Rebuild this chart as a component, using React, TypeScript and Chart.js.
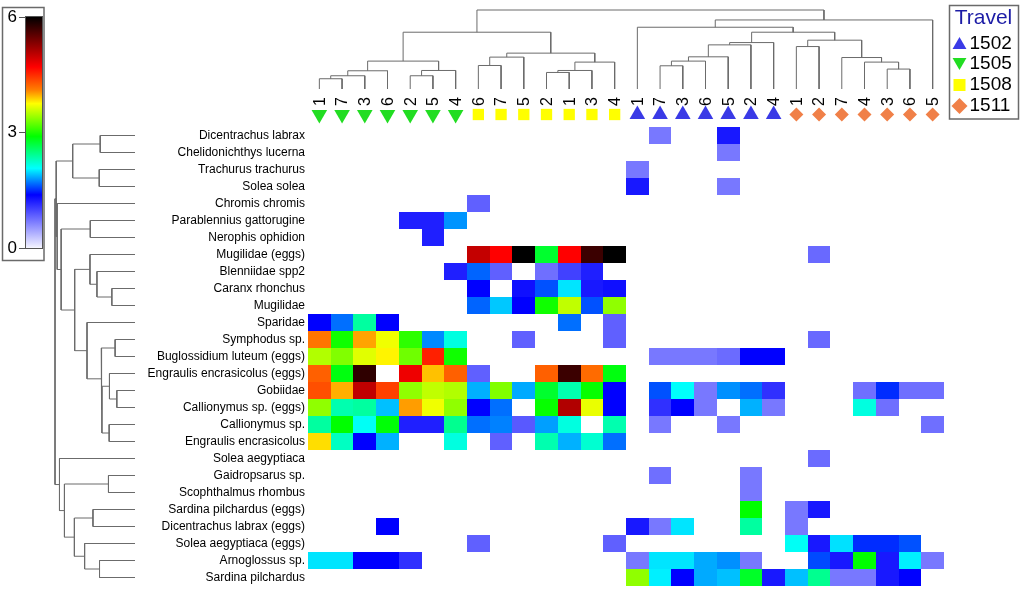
import React, { useEffect, useRef } from 'react';
import { Chart, registerables } from 'chart.js';

Chart.register(...registerables);

const FONT = '"Liberation Sans", Arial, Helvetica, sans-serif';

// ---------- data ----------
const SPECIES = [
  'Dicentrachus labrax',
  'Chelidonichthys lucerna',
  'Trachurus trachurus',
  'Solea solea',
  'Chromis chromis',
  'Parablennius gattorugine',
  'Nerophis ophidion',
  'Mugilidae (eggs)',
  'Blenniidae spp2',
  'Caranx rhonchus',
  'Mugilidae',
  'Sparidae',
  'Symphodus sp.',
  'Buglossidium luteum (eggs)',
  'Engraulis encrasicolus (eggs)',
  'Gobiidae',
  'Callionymus sp. (eggs)',
  'Callionymus sp.',
  'Engraulis encrasicolus',
  'Solea aegyptiaca',
  'Gaidropsarus sp.',
  'Scophthalmus rhombus',
  'Sardina pilchardus (eggs)',
  'Dicentrachus labrax (eggs)',
  'Solea aegyptiaca (eggs)',
  'Arnoglossus sp.',
  'Sardina pilchardus',
];

const COL_LABELS = [
  '1', '7', '3', '6', '2', '5', '4',
  '6', '7', '5', '2', '1', '3', '4',
  '1', '7', '3', '6', '5', '2', '4',
  '1', '2', '7', '4', '3', '6', '5',
];

const COL_TRAVEL = [
  '1505', '1505', '1505', '1505', '1505', '1505', '1505',
  '1508', '1508', '1508', '1508', '1508', '1508', '1508',
  '1502', '1502', '1502', '1502', '1502', '1502', '1502',
  '1511', '1511', '1511', '1511', '1511', '1511', '1511',
];

const TRAVELS = ['1502', '1505', '1508', '1511'];
const TRAVEL_COLORS = ['#3A3AE6', '#22DD22', '#FFFF00', '#F08048'];
const TRAVEL_STYLES = ['triangle', 'triangle', 'rect', 'rectRot'];
const TRAVEL_ROTATION = [0, 180, 0, 0];
const TRAVEL_RADIUS = [9, 9, 8, 7];

// abundance matrix (rows = species, columns = samples in display order)
const HEAT_VALUES: number[][] = [
  [0, 0, 0, 0, 0, 0, 0, 0, 0, 0, 0, 0, 0, 0, 0, 0.73, 0, 0, 1.25, 0, 0, 0, 0, 0, 0, 0, 0, 0],
  [0, 0, 0, 0, 0, 0, 0, 0, 0, 0, 0, 0, 0, 0, 0, 0, 0, 0, 0.73, 0, 0, 0, 0, 0, 0, 0, 0, 0],
  [0, 0, 0, 0, 0, 0, 0, 0, 0, 0, 0, 0, 0, 0, 0.73, 0, 0, 0, 0, 0, 0, 0, 0, 0, 0, 0, 0, 0],
  [0, 0, 0, 0, 0, 0, 0, 0, 0, 0, 0, 0, 0, 0, 1.25, 0, 0, 0, 0.73, 0, 0, 0, 0, 0, 0, 0, 0, 0],
  [0, 0, 0, 0, 0, 0, 0, 0.86, 0, 0, 0, 0, 0, 0, 0, 0, 0, 0, 0, 0, 0, 0, 0, 0, 0, 0, 0, 0],
  [0, 0, 0, 0, 1.21, 1.21, 1.78, 0, 0, 0, 0, 0, 0, 0, 0, 0, 0, 0, 0, 0, 0, 0, 0, 0, 0, 0, 0, 0],
  [0, 0, 0, 0, 0, 1.21, 0, 0, 0, 0, 0, 0, 0, 0, 0, 0, 0, 0, 0, 0, 0, 0, 0, 0, 0, 0, 0, 0],
  [0, 0, 0, 0, 0, 0, 0, 5.0, 4.7, 6.0, 2.75, 4.7, 5.7, 6.0, 0, 0, 0, 0, 0, 0, 0, 0, 0.81, 0, 0, 0, 0, 0],
  [0, 0, 0, 0, 0, 0, 1.21, 1.65, 0.86, 0, 0.78, 1.03, 1.21, 0, 0, 0, 0, 0, 0, 0, 0, 0, 0, 0, 0, 0, 0, 0],
  [0, 0, 0, 0, 0, 0, 0, 1.38, 0, 1.3, 1.6, 2.0, 1.25, 1.3, 0, 0, 0, 0, 0, 0, 0, 0, 0, 0, 0, 0, 0, 0],
  [0, 0, 0, 0, 0, 0, 0, 1.65, 1.92, 1.38, 2.95, 3.54, 1.6, 3.38, 0, 0, 0, 0, 0, 0, 0, 0, 0, 0, 0, 0, 0, 0],
  [1.38, 1.68, 2.38, 1.38, 0, 0, 0, 0, 0, 0, 0, 1.68, 0, 0.86, 0, 0, 0, 0, 0, 0, 0, 0, 0, 0, 0, 0, 0, 0],
  [4.15, 2.95, 4.0, 3.7, 3.05, 1.75, 2.17, 0, 0, 0.86, 0, 0, 0, 0.86, 0, 0, 0, 0, 0, 0, 0, 0, 0.81, 0, 0, 0, 0, 0],
  [3.49, 3.33, 3.65, 3.78, 3.27, 4.55, 2.95, 0, 0, 0, 0, 0, 0, 0, 0, 0.73, 0.73, 0.73, 0.8, 1.38, 1.38, 0, 0, 0, 0, 0, 0, 0],
  [4.25, 2.85, 5.76, 0, 4.78, 3.92, 4.25, 0.86, 0, 0, 4.25, 5.7, 4.2, 2.85, 0, 0, 0, 0, 0, 0, 0, 0, 0, 0, 0, 0, 0, 0],
  [4.33, 3.97, 5.02, 4.4, 3.38, 3.54, 3.49, 1.86, 3.33, 1.84, 2.75, 2.33, 2.92, 1.38, 0, 1.6, 2.08, 0.73, 1.77, 1.68, 1.12, 0, 0, 0, 0.78, 1.5, 0.78, 0.78],
  [3.38, 2.33, 2.38, 1.9, 4.02, 3.7, 3.38, 1.38, 1.68, 0, 2.92, 5.1, 3.68, 1.38, 0, 1.12, 1.38, 0.73, 0, 1.86, 0.73, 0, 0, 0, 2.17, 0.78, 0, 0],
  [2.38, 2.9, 2.1, 2.88, 1.21, 1.21, 2.43, 1.68, 1.73, 0.9, 1.81, 2.17, 0, 2.33, 0, 0.73, 0, 0, 0.73, 0, 0, 0, 0, 0, 0, 0, 0, 0.78],
  [3.84, 2.27, 1.38, 1.86, 0, 0, 2.17, 0, 0.86, 0, 2.33, 1.86, 2.22, 1.68, 0, 0, 0, 0, 0, 0, 0, 0, 0, 0, 0, 0, 0, 0],
  [0, 0, 0, 0, 0, 0, 0, 0, 0, 0, 0, 0, 0, 0, 0, 0, 0, 0, 0, 0, 0, 0, 0.8, 0, 0, 0, 0, 0],
  [0, 0, 0, 0, 0, 0, 0, 0, 0, 0, 0, 0, 0, 0, 0, 0.78, 0, 0, 0, 0.73, 0, 0, 0, 0, 0, 0, 0, 0],
  [0, 0, 0, 0, 0, 0, 0, 0, 0, 0, 0, 0, 0, 0, 0, 0, 0, 0, 0, 0.73, 0, 0, 0, 0, 0, 0, 0, 0],
  [0, 0, 0, 0, 0, 0, 0, 0, 0, 0, 0, 0, 0, 0, 0, 0, 0, 0, 0, 2.9, 0, 0.73, 1.25, 0, 0, 0, 0, 0],
  [0, 0, 0, 1.38, 0, 0, 0, 0, 0, 0, 0, 0, 0, 0, 1.25, 0.73, 2.0, 0, 0, 2.38, 0, 0.73, 0, 0, 0, 0, 0, 0],
  [0, 0, 0, 0, 0, 0, 0, 0.86, 0, 0, 0, 0, 0, 0.86, 0, 0, 0, 0, 0, 0, 0, 2.1, 1.25, 1.99, 1.5, 1.5, 1.6, 0],
  [2.0, 2.0, 1.38, 1.38, 1.12, 0, 0, 0, 0, 0, 0, 0, 0, 0, 0.73, 2.0, 2.0, 1.84, 1.77, 0.73, 0, 0, 1.58, 1.25, 2.9, 1.25, 2.03, 0.73],
  [0, 0, 0, 0, 0, 0, 0, 0, 0, 0, 0, 0, 0, 0, 3.38, 2.03, 1.38, 1.84, 1.9, 2.77, 1.25, 1.9, 2.43, 0.73, 0.73, 1.25, 1.38, 0],
];

// colour scale
const CB_VALUES = [0, 1.38, 2.07, 2.9, 3.75, 4.1, 4.7, 5.35, 6];
const CB_COLORS = ['#FFFFFF', '#0000FF', '#00FFFF', '#00FF00', '#FFFF00', '#FF8000', '#FF0000', '#800000', '#000000'];
const CB_MIN = 0;
const CB_MAX = 6;
const CB_STEP = 3;

// column dendrogram (hclust-style: negative = leaf position, positive = merge number)
const TOP_MERGE_A = [-1, 1, 2, -5, 4, 3, -8, 7, -11, 9, 10, 8, 6, -16, 14, 15, 16, 17, -22, -26, -25, -24, 19, 18, -15, 25, 13];
const TOP_MERGE_B = [-2, -3, -4, -6, -7, 5, -9, -10, -12, -13, -14, 11, 12, -17, -18, -19, -20, -21, -23, -27, 20, 21, 22, 23, 24, -28, 26];
const TOP_MERGE_H = [10.3, 13.3, 18.3, 13.3, 18.6, 28, 23.6, 32, 16.6, 18.6, 27, 36, 57, 23.3, 28, 32.3, 44.3, 46.6, 42.6, 20, 27, 31.6, 49, 57, 62, 69.3, 79.3];

// row dendrogram
const LEFT_MERGE_A = [-1, -3, 1, -6, -10, -9, -8, -13, -16, -15, -18, 10, 8, -12, 7, 4, -5, 3, -21, -23, -26, -25, 20, 19, -20, 18];
const LEFT_MERGE_B = [-2, -4, 2, -7, -11, 5, 6, -14, -17, 9, -19, 11, 12, 13, 14, 15, 16, 17, -22, -24, -27, 21, 22, 23, 24, 25];
const LEFT_MERGE_H = [35, 36, 62.7, 45, 23.3, 38.3, 45.3, 20, 18.3, 25.7, 26, 33.3, 34, 48.3, 60.7, 74.3, 78.3, 79.3, 26.7, 42.3, 35.7, 50.7, 61, 71, 76, 80.5];

// ---------- helpers ----------
const COL_LABEL_ROW = -1.5;

function hexToRgb(h: string) {
  const n = parseInt(h.slice(1), 16);
  return [(n >> 16) & 255, (n >> 8) & 255, n & 255];
}

function colorFor(v: number) {
  const vv = Math.max(CB_MIN, Math.min(CB_MAX, v));
  for (let i = 0; i < CB_VALUES.length - 1; i++) {
    if (vv <= CB_VALUES[i + 1]) {
      const t = (vv - CB_VALUES[i]) / (CB_VALUES[i + 1] - CB_VALUES[i]);
      const a = hexToRgb(CB_COLORS[i]);
      const b = hexToRgb(CB_COLORS[i + 1]);
      const c = a.map((x, k) => Math.round(x + (b[k] - x) * t));
      return `rgb(${c[0]},${c[1]},${c[2]})`;
    }
  }
  return CB_COLORS[CB_COLORS.length - 1];
}

function dendroSegments(A: number[], B: number[], H: number[]) {
  const pos: number[] = [];
  const hh: number[] = [];
  const get = (k: number) => (k < 0 ? { p: -k - 1 + 0.5, h: 0 } : { p: pos[k - 1], h: hh[k - 1] });
  const segs: { a: { p: number; h: number }; b: { p: number; h: number }; h: number }[] = [];
  for (let i = 0; i < A.length; i++) {
    const a = get(A[i]);
    const b = get(B[i]);
    pos[i] = (a.p + b.p) / 2;
    hh[i] = H[i];
    segs.push({ a, b, h: H[i] });
  }
  return segs;
}

function drawMarker(ctx: CanvasRenderingContext2D, style: string, rot: number, cx: number, cy: number, r: number) {
  ctx.beginPath();
  if (style === 'triangle') {
    const s = rot === 180 ? -1 : 1;
    ctx.moveTo(cx, cy - s * r);
    ctx.lineTo(cx + r * 0.866, cy + s * r / 2);
    ctx.lineTo(cx - r * 0.866, cy + s * r / 2);
  } else if (style === 'rect') {
    const h = r * Math.SQRT1_2;
    ctx.rect(cx - h, cy - h, 2 * h, 2 * h);
  } else {
    ctx.moveTo(cx - r, cy);
    ctx.lineTo(cx, cy - r);
    ctx.lineTo(cx + r, cy);
    ctx.lineTo(cx, cy + r);
  }
  ctx.closePath();
  ctx.fill();
}

// ---------- plugins ----------
const heatPlugin = {
  id: 'heatCells',
  beforeDatasetsDraw(chart: any) {
    const { ctx, scales } = chart;
    const x = scales.x;
    const y = scales.y;
    ctx.save();
    HEAT_VALUES.forEach((row, r) => {
      row.forEach((v, c) => {
        if (v <= 0) return;
        const x0 = Math.round(x.getPixelForValue(c));
        const x1 = Math.round(x.getPixelForValue(c + 1));
        const y0 = Math.round(y.getPixelForValue(r));
        const y1 = Math.round(y.getPixelForValue(r + 1));
        ctx.fillStyle = colorFor(v);
        ctx.fillRect(x0, Math.min(y0, y1), x1 - x0, Math.abs(y1 - y0));
      });
    });
    ctx.restore();
  },
};

const textPlugin = {
  id: 'texts',
  afterDraw(chart: any) {
    const { ctx, chartArea, scales } = chart;
    const x = scales.x;
    const y = scales.y;
    ctx.save();
    ctx.fillStyle = '#000';
    ctx.font = `12px ${FONT}`;
    ctx.textAlign = 'right';
    ctx.textBaseline = 'middle';
    SPECIES.forEach((s, r) => ctx.fillText(s, chartArea.left - 3, y.getPixelForValue(r + 0.5) + 0.5));

    ctx.font = `16px ${FONT}`;
    ctx.textAlign = 'center';
    COL_LABELS.forEach((l, c) => {
      ctx.save();
      ctx.translate(x.getPixelForValue(c + 0.5) + 1, y.getPixelForValue(COL_LABEL_ROW));
      ctx.rotate(-Math.PI / 2);
      ctx.fillText(l, 0, 0);
      ctx.restore();
    });

    // legend
    ctx.strokeStyle = '#6a6a6a';
    ctx.lineWidth = 1.5;
    ctx.strokeRect(949.5, 5.5, 69, 113.5);
    ctx.fillStyle = '#1C1CA6';
    ctx.font = `21px ${FONT}`;
    ctx.textAlign = 'center';
    ctx.fillText('Travel', 983.5, 18);
    const legendY = [44, 64, 85, 106];
    const legendR = [8, 8, 8.5, 8];
    TRAVELS.forEach((t, k) => {
      ctx.fillStyle = TRAVEL_COLORS[k];
      drawMarker(ctx, TRAVEL_STYLES[k], TRAVEL_ROTATION[k], 959.5, legendY[k] + (k === 1 ? -2 : k === 0 ? 1 : 0), legendR[k]);
      ctx.fillStyle = '#000';
      ctx.font = `19px ${FONT}`;
      ctx.textAlign = 'left';
      ctx.fillText(t, 969.5, legendY[k]);
    });
    ctx.restore();
  },
};

const cbFramePlugin = {
  id: 'cbFrame',
  afterDraw(chart: any) {
    const { ctx, chartArea } = chart;
    ctx.save();
    ctx.strokeStyle = '#6a6a6a';
    ctx.lineWidth = 1.5;
    ctx.strokeRect(2.5, 7.5, 41.5, 253);
    ctx.strokeStyle = '#555';
    ctx.lineWidth = 1;
    ctx.strokeRect(chartArea.left - 0.5, chartArea.top - 0.5, chartArea.right - chartArea.left + 1, chartArea.bottom - chartArea.top + 1);
    ctx.restore();
  },
};

// ---------- configs ----------
function mainConfig(): any {
  return {
    type: 'scatter',
    data: { datasets: [] },
    options: {
      responsive: false,
      animation: false,
      events: [],
      layout: { padding: { left: 308, right: 80, top: 127, bottom: 6 } },
      scales: {
        x: { type: 'linear', display: false, min: 0, max: COL_LABELS.length },
        y: { type: 'linear', display: false, min: 0, max: SPECIES.length, reverse: true },
      },
      plugins: { legend: { display: false }, tooltip: { enabled: false } },
    },
    plugins: [heatPlugin, textPlugin],
  };
}

function headerConfig(): any {
  const datasets = TRAVELS.map((t, k) => ({
    label: t,
    data: COL_TRAVEL.map((tr, c) => (tr === t ? { x: c + 0.5, y: 0.5 } : null)).filter(Boolean),
    pointStyle: TRAVEL_STYLES[k],
    pointRotation: TRAVEL_ROTATION[k],
    pointRadius: TRAVEL_RADIUS[k],
    pointBackgroundColor: TRAVEL_COLORS[k],
    pointBorderColor: TRAVEL_COLORS[k],
    pointBorderWidth: 0,
    showLine: false,
    clip: false,
  }));
  return {
    type: 'scatter',
    data: { datasets },
    options: {
      responsive: false,
      animation: false,
      events: [],
      layout: { padding: { left: 308, right: 80, top: 108, bottom: 2 } },
      scales: {
        x: { type: 'linear', display: false, min: 0, max: COL_LABELS.length },
        y: { type: 'linear', display: false, min: 0, max: 1 },
      },
      plugins: { legend: { display: false }, tooltip: { enabled: false } },
    },
  };
}

function lineDataset(points: { x: number; y: number }[]) {
  return {
    data: points,
    showLine: true,
    borderColor: '#6b6b6b',
    borderWidth: 1,
    pointRadius: 0,
    tension: 0,
    clip: false,
  };
}

function topConfig(): any {
  const segs = dendroSegments(TOP_MERGE_A, TOP_MERGE_B, TOP_MERGE_H);
  const datasets = segs.map(({ a, b, h }) =>
    lineDataset([
      { x: a.p, y: a.h },
      { x: a.p, y: h },
      { x: b.p, y: h },
      { x: b.p, y: b.h },
    ])
  );
  return {
    type: 'scatter',
    data: { datasets },
    options: {
      responsive: false,
      animation: false,
      events: [],
      layout: { padding: { left: 308, right: 80, top: 10, bottom: 11 } },
      scales: {
        x: { type: 'linear', display: false, min: 0, max: COL_LABELS.length },
        y: { type: 'linear', display: false, min: 0, max: Math.max(...TOP_MERGE_H) },
      },
      plugins: { legend: { display: false }, tooltip: { enabled: false } },
    },
  };
}

function leftConfig(): any {
  const segs = dendroSegments(LEFT_MERGE_A, LEFT_MERGE_B, LEFT_MERGE_H);
  const datasets = segs.map(({ a, b, h }) =>
    lineDataset([
      { x: a.h, y: a.p },
      { x: h, y: a.p },
      { x: h, y: b.p },
      { x: b.h, y: b.p },
    ])
  );
  return {
    type: 'scatter',
    data: { datasets },
    options: {
      responsive: false,
      animation: false,
      events: [],
      layout: { padding: { left: 55, right: 5, top: 127, bottom: 6 } },
      scales: {
        x: { type: 'linear', display: false, min: 0, max: Math.max(...LEFT_MERGE_H), reverse: true },
        y: { type: 'linear', display: false, min: 0, max: SPECIES.length, reverse: true },
      },
      plugins: { legend: { display: false }, tooltip: { enabled: false } },
    },
  };
}

function colorbarConfig(): any {
  return {
    type: 'bar',
    data: {
      labels: [''],
      datasets: [
        {
          data: [[CB_MIN, CB_MAX]],
          barPercentage: 1,
          categoryPercentage: 1,
          borderWidth: 0,
          backgroundColor: (c: any) => {
            const ch = c.chart;
            if (!ch.chartArea) return 'transparent';
            const ys = ch.scales.y;
            const g = ch.ctx.createLinearGradient(0, ys.getPixelForValue(CB_MIN), 0, ys.getPixelForValue(CB_MAX));
            CB_VALUES.forEach((v, i) => g.addColorStop((v - CB_MIN) / (CB_MAX - CB_MIN), i === 0 ? '#F4F4FF' : CB_COLORS[i]));
            return g;
          },
        },
      ],
    },
    options: {
      responsive: false,
      animation: false,
      events: [],
      layout: { padding: { left: 4, right: 8, top: 17, bottom: 22 } },
      scales: {
        x: { display: false },
        y: {
          min: CB_MIN,
          max: CB_MAX,
          ticks: { stepSize: CB_STEP, color: '#000', font: { size: 17, family: FONT }, padding: 2 },
          grid: { drawOnChartArea: false, drawTicks: true, tickLength: 7, color: '#555' },
          border: { display: false },
          afterFit: (s: any) => {
            s.width = 22;
          },
        },
      },
      plugins: { legend: { display: false }, tooltip: { enabled: false } },
    },
    plugins: [cbFramePlugin],
  };
}

export default function App() {
  const mainRef = useRef<HTMLCanvasElement>(null);
  const headRef = useRef<HTMLCanvasElement>(null);
  const topRef = useRef<HTMLCanvasElement>(null);
  const leftRef = useRef<HTMLCanvasElement>(null);
  const cbRef = useRef<HTMLCanvasElement>(null);

  useEffect(() => {
    const charts = [
      new Chart(mainRef.current as HTMLCanvasElement, mainConfig()),
      new Chart(headRef.current as HTMLCanvasElement, headerConfig()),
      new Chart(topRef.current as HTMLCanvasElement, topConfig()),
      new Chart(leftRef.current as HTMLCanvasElement, leftConfig()),
      new Chart(cbRef.current as HTMLCanvasElement, colorbarConfig()),
    ];
    return () => charts.forEach((c) => c.destroy());
  }, []);

  const abs = (l: number, t: number): React.CSSProperties => ({ position: 'absolute', left: l, top: t });

  return (
    <div style={{ position: 'fixed', left: 0, top: 0, width: 1024, height: 592, background: '#fff', overflow: 'hidden' }}>
      <canvas ref={mainRef} width={1024} height={592} style={abs(0, 0)} />
      <canvas ref={headRef} width={1024} height={130} style={abs(0, 0)} />
      <canvas ref={topRef} width={1024} height={100} style={abs(0, 0)} />
      <canvas ref={leftRef} width={140} height={592} style={abs(0, 0)} />
      <canvas ref={cbRef} width={50} height={270} style={abs(0, 0)} />
    </div>
  );
}
